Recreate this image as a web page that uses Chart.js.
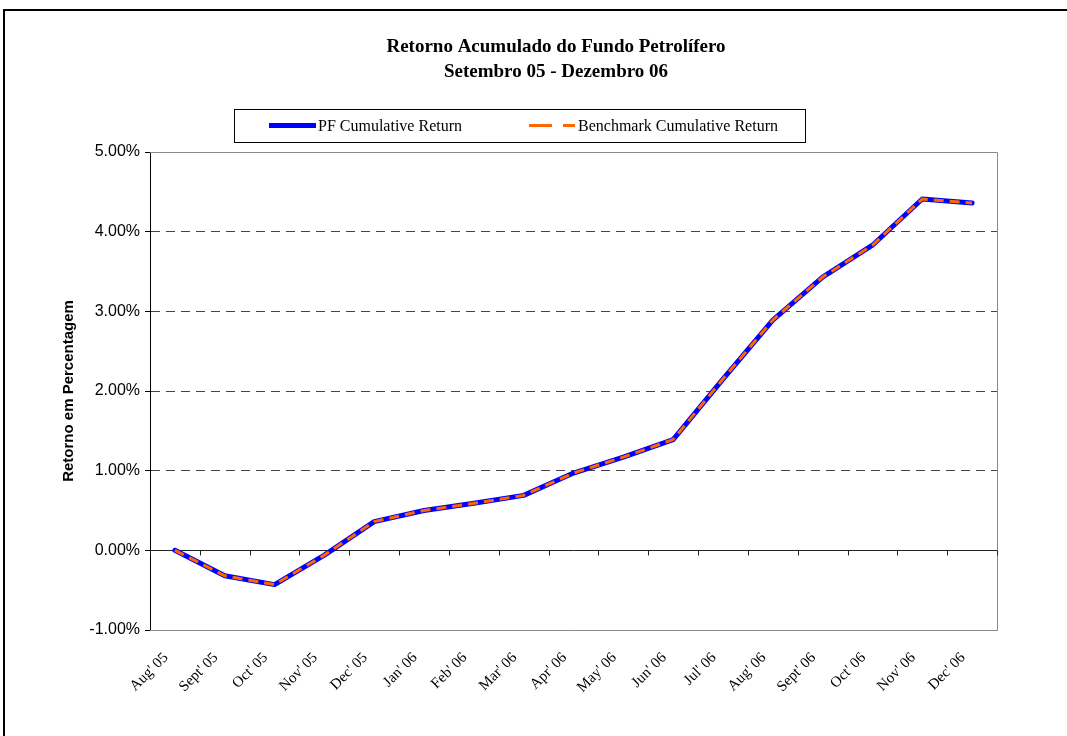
<!DOCTYPE html>
<html>
<head>
<meta charset="utf-8">
<script src="https://cdn.jsdelivr.net/npm/chart.js@4.4.0/dist/chart.umd.min.js"></script>
<style>
html,body{margin:0;padding:0;background:#fff;overflow:hidden;width:1067px;height:736px;}
#frame{position:absolute;left:3px;top:9px;width:1200px;height:900px;border-left:2px solid #000;border-top:2px solid #000;}
#wrap{position:absolute;left:0;top:0;width:1112px;height:736px;}
</style>
</head>
<body>
<div id="frame"></div>
<div id="wrap"><canvas id="c" width="1112" height="736"></canvas></div>
<script>
const titleLines = ["Retorno Acumulado do Fundo Petrolífero", "Setembro 05 - Dezembro 06"];
const yAxisTitle = "Retorno em Percentagem";
const categories = ["Aug' 05","Sept' 05","Oct' 05","Nov' 05","Dec' 05","Jan' 06","Feb' 06","Mar' 06","Apr' 06","May' 06","Jun' 06","Jul' 06","Aug' 06","Sept' 06","Oct' 06","Nov' 06","Dec' 06"];
const pfCumulativeReturn = [0.00,-0.32,-0.43,-0.06,0.36,0.50,0.59,0.69,0.97,1.17,1.39,2.15,2.89,3.43,3.83,4.41,4.36];
const benchmarkCumulativeReturn = [0.00,-0.32,-0.43,-0.06,0.36,0.50,0.59,0.69,0.97,1.17,1.39,2.15,2.89,3.43,3.83,4.41,4.36];
const yMin = -1, yMax = 5, yStep = 1;

const framePlugin = {
  id: 'framePlugin',
  beforeDatasetsDraw(chart) {
    const {ctx, chartArea: a, scales} = chart;
    ctx.save();
    ctx.strokeStyle = '#8a8a8a';
    ctx.lineWidth = 1;
    ctx.beginPath();
    ctx.moveTo(a.left, a.top + 0.5);
    ctx.lineTo(a.right + 0.5, a.top + 0.5);
    ctx.lineTo(a.right + 0.5, a.bottom + 0.5);
    ctx.lineTo(a.left, a.bottom + 0.5);
    ctx.stroke();
    const y0 = Math.round(scales.y.getPixelForValue(0)) + 0.5;
    ctx.strokeStyle = '#222';
    ctx.beginPath();
    ctx.moveTo(a.left, y0);
    ctx.lineTo(a.right, y0);
    const xs = scales.x;
    const step = xs.getPixelForValue(1) - xs.getPixelForValue(0);
    for (let i = 0; i <= categories.length; i++) {
      const x = Math.round(xs.getPixelForValue(0) - step / 2 + i * step) + 0.5;
      ctx.moveTo(x, y0);
      ctx.lineTo(x, y0 + 5);
    }
    ctx.stroke();
    ctx.restore();
  },
  afterDraw(chart) {
    const {ctx} = chart;
    ctx.save();
    ctx.fillStyle = '#000';
    ctx.textAlign = 'center';
    ctx.textBaseline = 'alphabetic';
    ctx.font = 'bold 19px "Liberation Serif", "Times New Roman", serif';
    ctx.fillText(titleLines[0], 556, 52);
    ctx.fillText(titleLines[1], 556, 77);
    ctx.strokeStyle = '#000';
    ctx.lineWidth = 1;
    ctx.strokeRect(234.5, 109.5, 571, 33);
    const ds = chart.data.datasets;
    const ly = 125.5;
    const items = [{x1: 269, x2: 316, tx: 318}, {x1: 529, x2: 575, tx: 578}];
    ds.forEach((d, i) => {
      const it = items[i];
      ctx.beginPath();
      ctx.strokeStyle = d.borderColor;
      ctx.lineWidth = d.borderWidth;
      ctx.setLineDash(d.legendDash || []);
      ctx.moveTo(it.x1, ly);
      ctx.lineTo(it.x2, ly);
      ctx.stroke();
      ctx.setLineDash([]);
      ctx.fillStyle = '#000';
      ctx.textAlign = 'left';
      ctx.textBaseline = 'middle';
      ctx.font = '16px "Liberation Serif", "Times New Roman", serif';
      ctx.fillText(d.label, it.tx, ly + 1);
    });
    ctx.restore();
  }
};

new Chart(document.getElementById('c'), {
  type: 'line',
  data: {
    labels: categories,
    datasets: [
      {label: 'PF Cumulative Return', data: pfCumulativeReturn, borderColor: '#0000FF', borderWidth: 5,
       pointRadius: 0, tension: 0, fill: false, order: 1, borderCapStyle: 'round', borderJoinStyle: 'round', legendDash: []},
      {label: 'Benchmark Cumulative Return', data: benchmarkCumulativeReturn, borderColor: '#FF6600', borderWidth: 3,
       borderDash: [10, 6], pointRadius: 0, tension: 0, fill: false, order: 0, legendDash: [23, 11]}
    ]
  },
  options: {
    responsive: false,
    animation: false,
    devicePixelRatio: 1,
    layout: {padding: {top: 152, left: 56, right: 115, bottom: 6}},
    plugins: {legend: {display: false}, title: {display: false}, tooltip: {enabled: false}},
    scales: {
      x: {
        type: 'category',
        offset: true,
        grid: {display: false, drawOnChartArea: false, drawTicks: false},
        border: {display: false},
        ticks: {autoSkip: false, minRotation: 45, maxRotation: 45, padding: 19, labelOffset: -9, color: '#000',
                font: {family: '"Liberation Serif", "Times New Roman", serif', size: 15}},
        afterFit(s) { s.height = 100; }
      },
      y: {
        min: yMin, max: yMax,
        ticks: {stepSize: yStep, padding: 5, color: '#000',
                font: {family: '"Liberation Sans", Arial, sans-serif', size: 16},
                callback: v => v.toFixed(2) + '%'},
        grid: {
          drawTicks: true, tickLength: 5, tickColor: '#000', lineWidth: 1,
          color: c => (c.tick && c.tick.value > yMin && c.tick.value < yMax && c.tick.value !== 0) ? '#444' : 'rgba(0,0,0,0)'
        },
        border: {display: true, color: '#000', width: 1, dash: [9, 6]},
        title: {display: true, text: yAxisTitle, color: '#000',
                font: {family: '"Liberation Sans", Arial, sans-serif', size: 15, weight: 'bold'}},
        afterFit(s) { s.width = 94; }
      }
    }
  },
  plugins: [framePlugin]
});
</script>
</body>
</html>
